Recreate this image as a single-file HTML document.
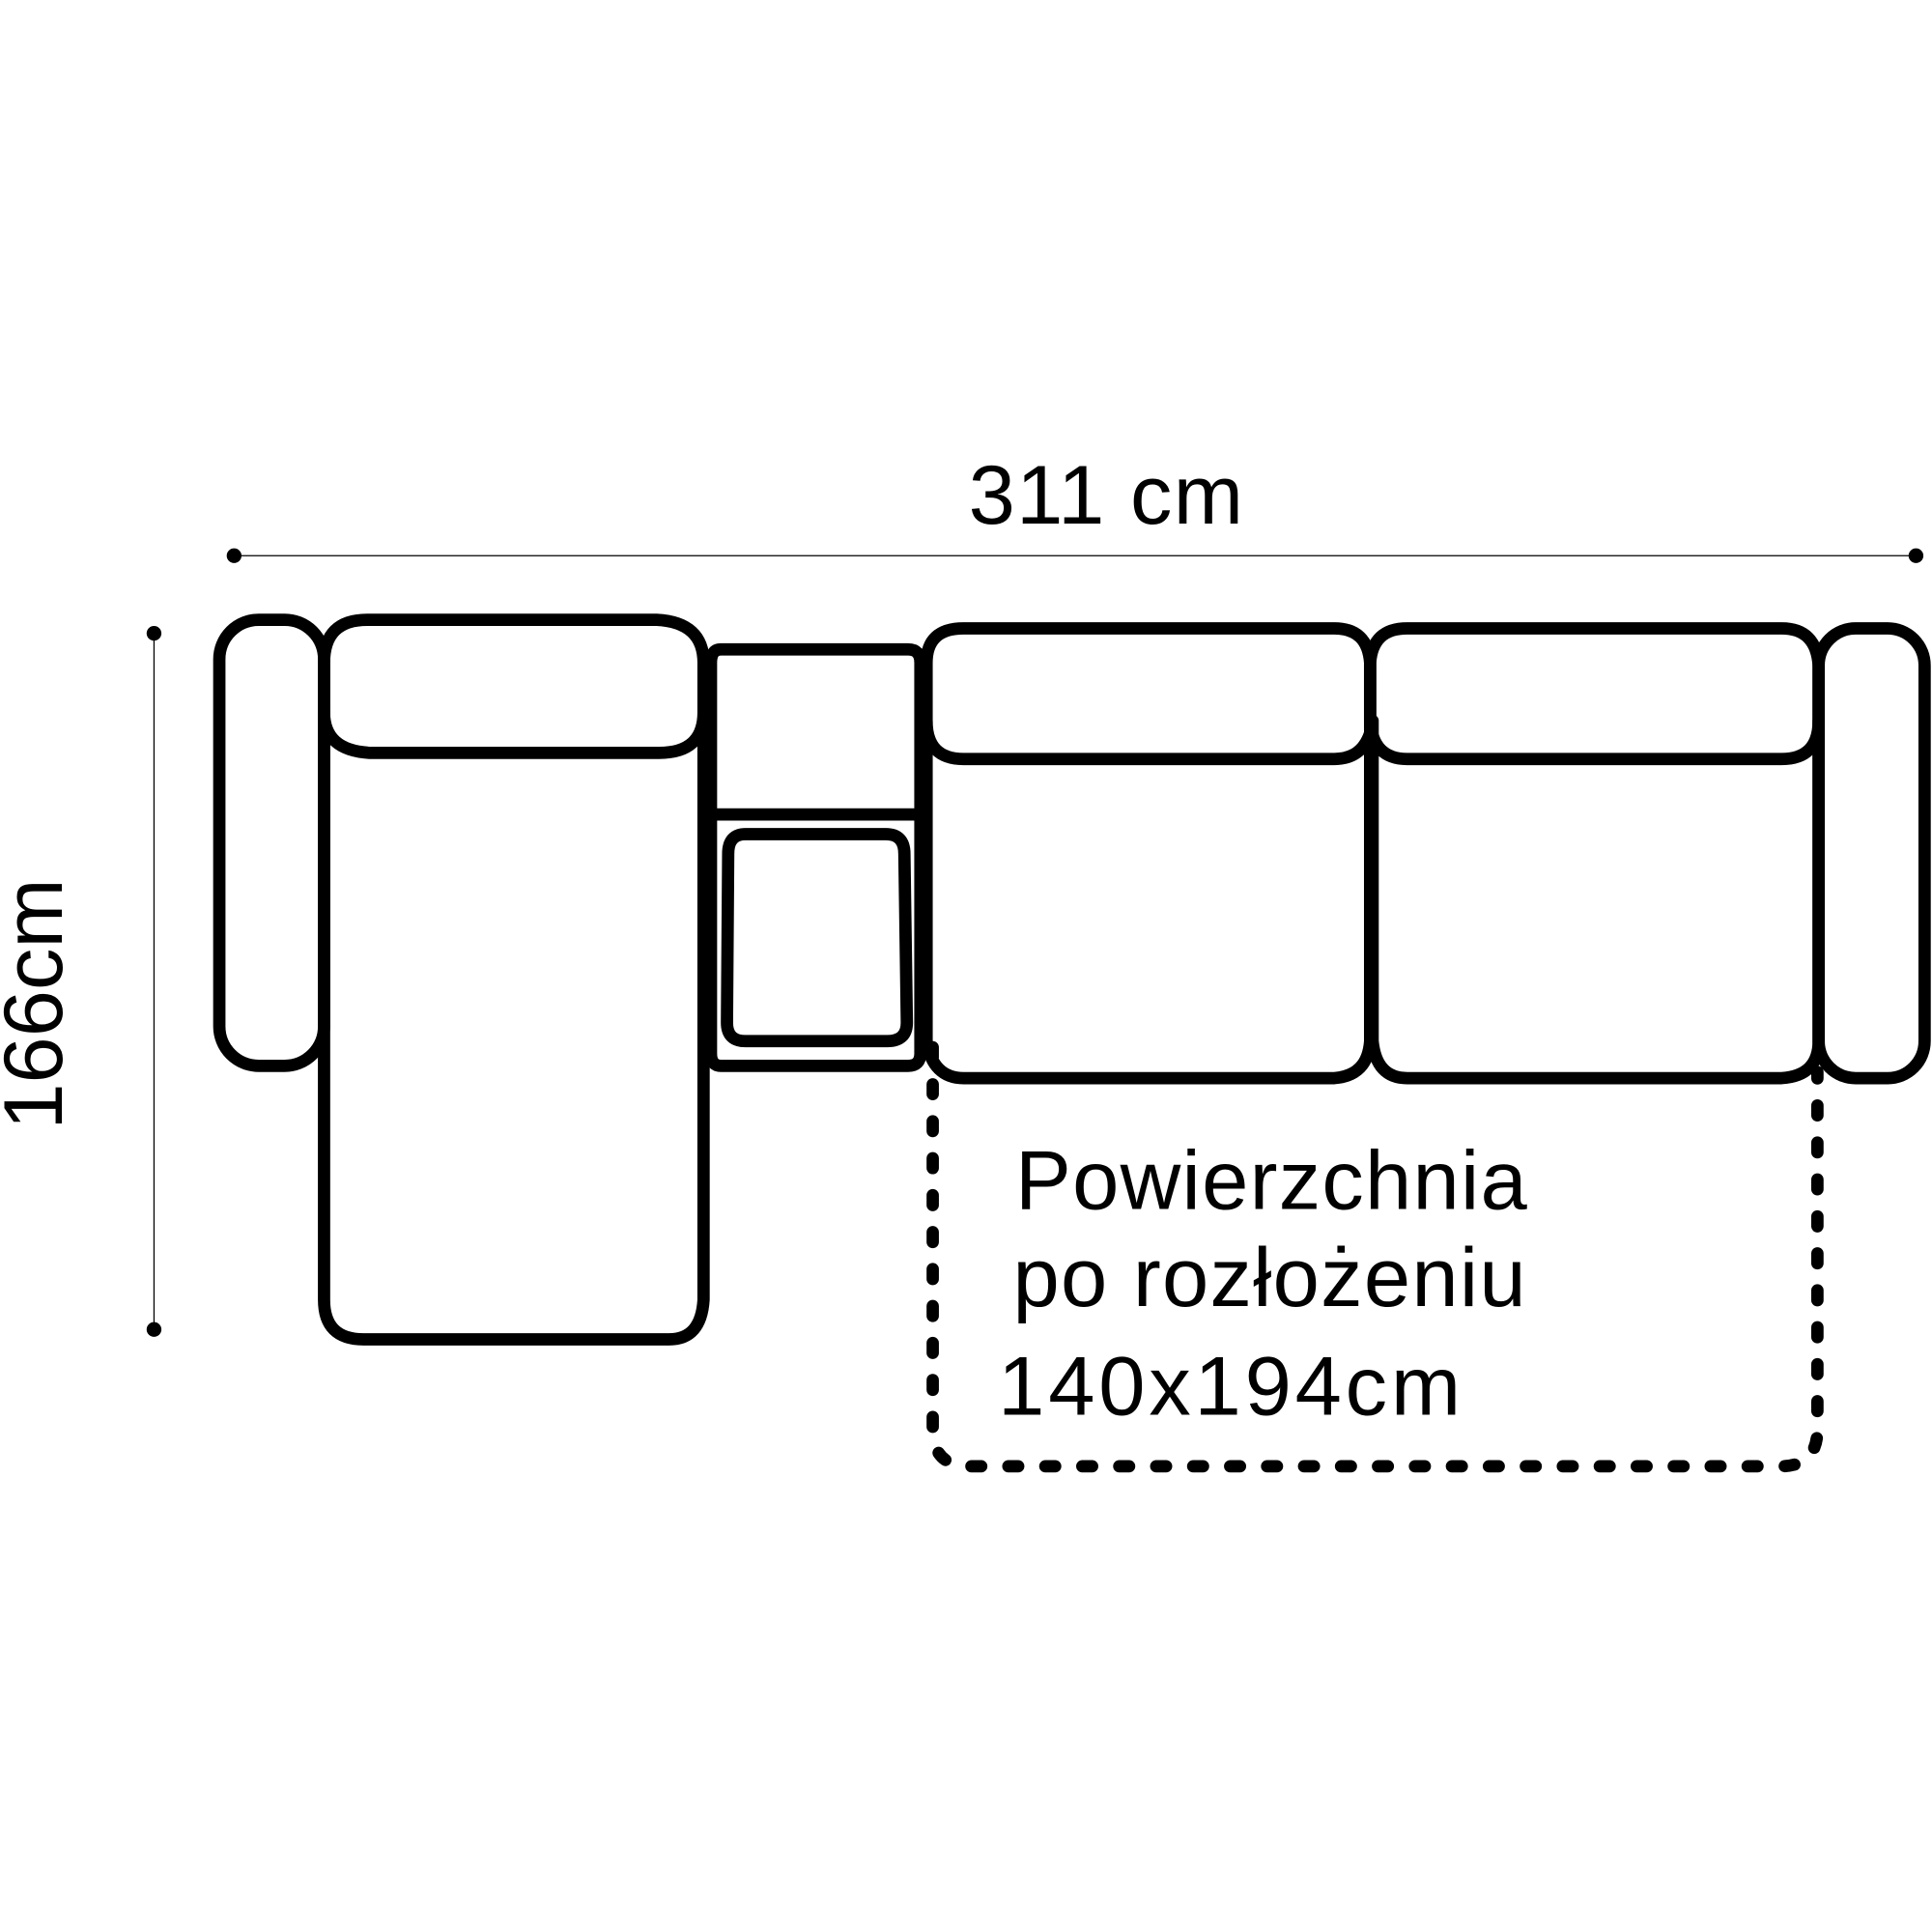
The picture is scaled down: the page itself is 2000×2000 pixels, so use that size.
<!DOCTYPE html>
<html><head><meta charset="utf-8"><style>
html,body{margin:0;padding:0;background:#fff;}
svg{display:block;}
text{font-family:"Liberation Sans",sans-serif;fill:#000;}
</style></head><body>
<svg width="2000" height="2000" viewBox="0 0 1568 1568" xmlns="http://www.w3.org/2000/svg">
<line x1="190" y1="451" x2="1555" y2="451" stroke="#000" stroke-width="1"/>
<circle cx="190" cy="451" r="6"/><circle cx="1555" cy="451" r="6"/>
<text x="898" y="425" font-size="68" text-anchor="middle" letter-spacing="1">311 cm</text>
<line x1="125" y1="514" x2="125" y2="1079" stroke="#000" stroke-width="1"/>
<circle cx="125" cy="514" r="6"/><circle cx="125" cy="1079" r="6"/>
<text transform="translate(50,815) rotate(-90)" font-size="68" text-anchor="middle">166cm</text>

<g fill="none" stroke="#000" stroke-width="10" stroke-linejoin="round" stroke-linecap="round">
<rect x="178" y="503" width="85" height="362" rx="32"/>
<path d="M298 503 H533 Q571 505 571 538 V578 Q571 611 535 611 H300 Q263 609 263 578 V538 Q263 503 298 503 Z"/>
<path d="M263 578 V1055 Q263 1087 295 1087 H543 Q569 1087 571 1055 V590"/>
<path d="M585 527 H737 Q747 527 747 538 V855 Q747 865 737 865 H585 Q577 865 577 855 V538 Q577 527 585 527 Z"/>
<line x1="577" y1="661" x2="747" y2="661"/>
<path d="M605 677 H719 Q734 677 734 693 L736 830 Q736 845 720 845 H605 Q590 845 590 830 L591 693 Q591 677 605 677 Z"/>
<path d="M782 510 H1083 Q1110 510 1112 538 V595 Q1105 616 1083 616 H782 Q752 616 752 585 V538 Q752 510 782 510 Z"/>
<path d="M752 585 V845 Q757 875 782 875 H1083 Q1110 873 1112 845 V595"/>
<path d="M1142 510 H1446 Q1474 510 1476 540 V585 Q1476 616 1446 616 H1142 Q1114 616 1112 585 V538 Q1114 510 1142 510 Z"/>
<path d="M1114 585 V845 Q1117 875 1142 875 H1446 Q1476 873 1476 845 V585"/>
<rect x="1476" y="510" width="86" height="365" rx="30"/>
<path d="M757 850 V1160 Q757 1190 787 1190 H1445 Q1475 1190 1475 1160 V870" stroke-dasharray="8 22"/>
</g>
<text x="824" y="981" font-size="68" letter-spacing="1">Powierzchnia</text>
<text x="822" y="1060" font-size="68" letter-spacing="1">po rozłożeniu</text>
<text x="810" y="1148" font-size="68" letter-spacing="3">140x194cm</text>
</svg>
</body></html>
